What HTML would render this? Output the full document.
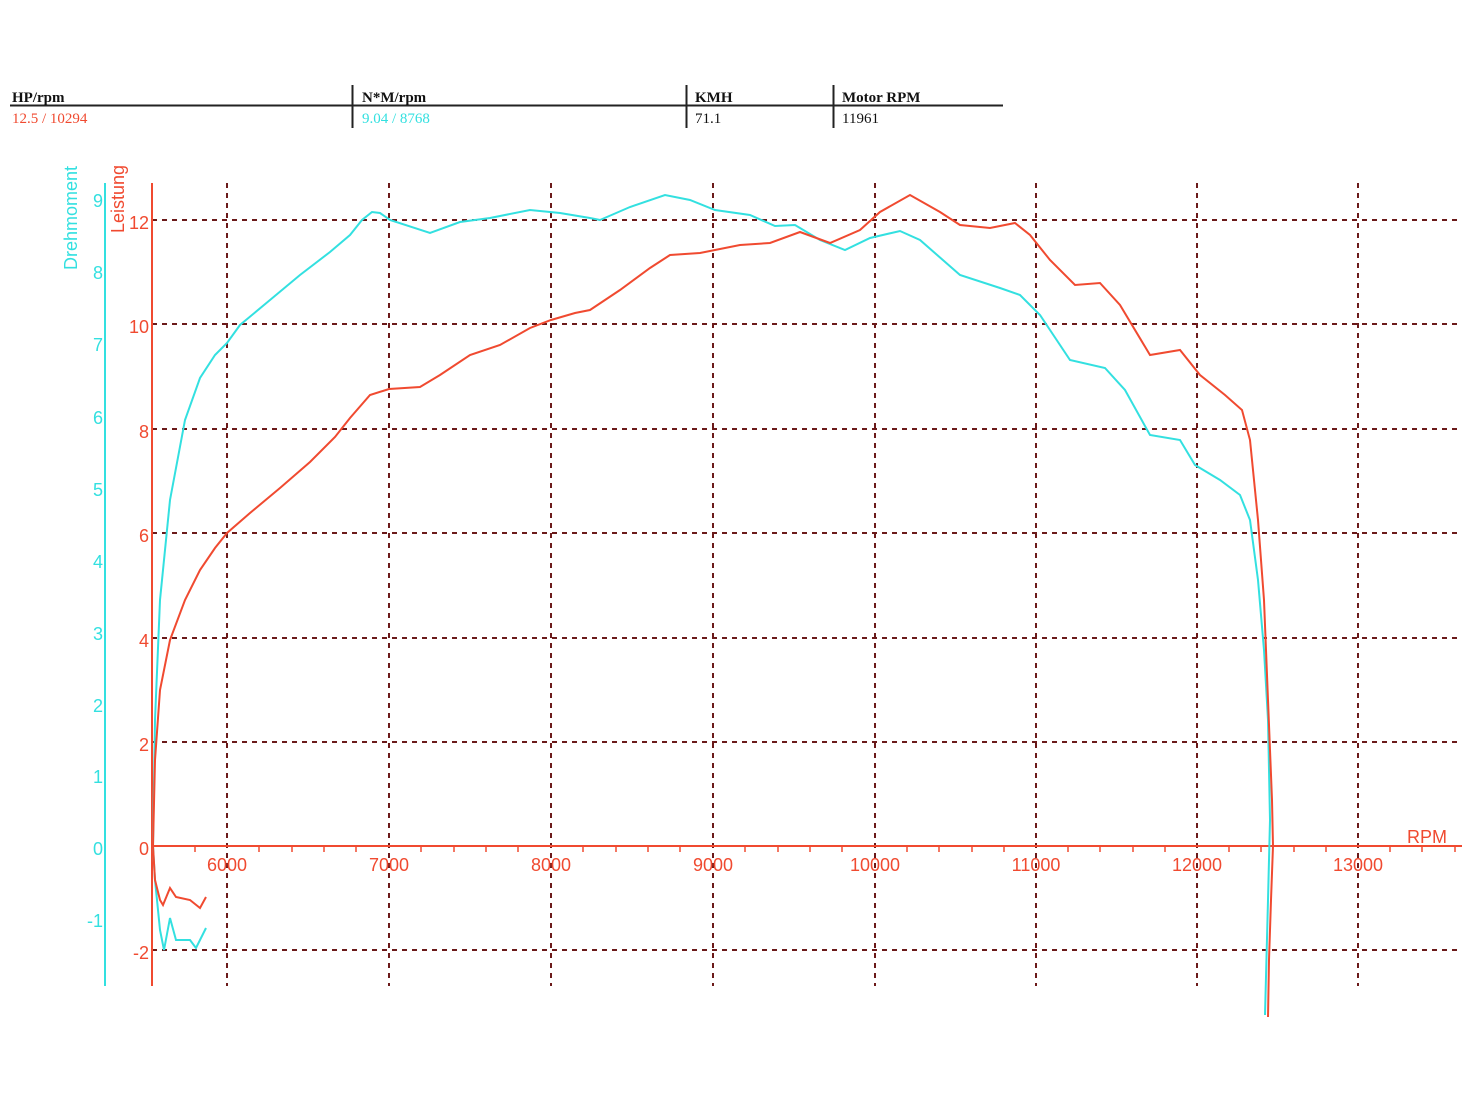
<!DOCTYPE html>
<html><head><meta charset="utf-8"><style>
html,body{margin:0;padding:0;background:#fff;}
svg{display:block;}
</style></head><body>
<svg width="1468" height="1101" viewBox="0 0 1468 1101" xmlns="http://www.w3.org/2000/svg">
<rect width="1468" height="1101" fill="#fff"/>
<!-- header -->
<g font-family="Liberation Serif, serif" font-size="15">
<line x1="10" y1="105.5" x2="1003" y2="105.5" stroke="#222" stroke-width="2"/>
<line x1="352.5" y1="85" x2="352.5" y2="128" stroke="#222" stroke-width="2"/>
<line x1="686.5" y1="85" x2="686.5" y2="128" stroke="#222" stroke-width="2"/>
<line x1="833.5" y1="85" x2="833.5" y2="128" stroke="#222" stroke-width="2"/>
<text x="12" y="102" font-weight="bold" fill="#111">HP/rpm</text>
<text x="12" y="123" fill="#f04a30">12.5 / 10294</text>
<text x="362" y="102" font-weight="bold" fill="#111">N*M/rpm</text>
<text x="362" y="123" fill="#33e0e0">9.04 / 8768</text>
<text x="695" y="102" font-weight="bold" fill="#111">KMH</text>
<text x="695" y="123" fill="#111">71.1</text>
<text x="842" y="102" font-weight="bold" fill="#111">Motor RPM</text>
<text x="842" y="123" fill="#111">11961</text>
</g>
<!-- grid -->
<g stroke="#6b1a1a" stroke-width="2" stroke-dasharray="5,5">
<line x1="227" y1="183" x2="227" y2="986"/>
<line x1="389" y1="183" x2="389" y2="986"/>
<line x1="551" y1="183" x2="551" y2="986"/>
<line x1="713" y1="183" x2="713" y2="986"/>
<line x1="875" y1="183" x2="875" y2="986"/>
<line x1="1036" y1="183" x2="1036" y2="986"/>
<line x1="1197" y1="183" x2="1197" y2="986"/>
<line x1="1358" y1="183" x2="1358" y2="986"/>
<line x1="152" y1="220" x2="1462" y2="220"/>
<line x1="152" y1="324" x2="1462" y2="324"/>
<line x1="152" y1="429" x2="1462" y2="429"/>
<line x1="152" y1="533" x2="1462" y2="533"/>
<line x1="152" y1="638" x2="1462" y2="638"/>
<line x1="152" y1="742" x2="1462" y2="742"/>
<line x1="152" y1="950" x2="1462" y2="950"/>
</g>
<!-- axes -->
<line x1="105" y1="183" x2="105" y2="986" stroke="#33e0e0" stroke-width="2"/>
<line x1="152" y1="183" x2="152" y2="986" stroke="#f04a30" stroke-width="2"/>
<line x1="152" y1="846" x2="1462" y2="846" stroke="#f04a30" stroke-width="2"/>
<g stroke="#f04a30" stroke-width="1.5">
<line x1="195" y1="846" x2="195" y2="852"/><line x1="259" y1="846" x2="259" y2="852"/><line x1="292" y1="846" x2="292" y2="852"/><line x1="324" y1="846" x2="324" y2="852"/><line x1="356" y1="846" x2="356" y2="852"/>
<line x1="421" y1="846" x2="421" y2="852"/><line x1="454" y1="846" x2="454" y2="852"/><line x1="486" y1="846" x2="486" y2="852"/><line x1="518" y1="846" x2="518" y2="852"/>
<line x1="583" y1="846" x2="583" y2="852"/><line x1="616" y1="846" x2="616" y2="852"/><line x1="648" y1="846" x2="648" y2="852"/><line x1="680" y1="846" x2="680" y2="852"/>
<line x1="745" y1="846" x2="745" y2="852"/><line x1="778" y1="846" x2="778" y2="852"/><line x1="810" y1="846" x2="810" y2="852"/><line x1="842" y1="846" x2="842" y2="852"/>
<line x1="907" y1="846" x2="907" y2="852"/><line x1="939" y1="846" x2="939" y2="852"/><line x1="972" y1="846" x2="972" y2="852"/><line x1="1004" y1="846" x2="1004" y2="852"/>
<line x1="1068" y1="846" x2="1068" y2="852"/><line x1="1100" y1="846" x2="1100" y2="852"/><line x1="1133" y1="846" x2="1133" y2="852"/><line x1="1165" y1="846" x2="1165" y2="852"/>
<line x1="1229" y1="846" x2="1229" y2="852"/><line x1="1261" y1="846" x2="1261" y2="852"/><line x1="1294" y1="846" x2="1294" y2="852"/><line x1="1326" y1="846" x2="1326" y2="852"/>
<line x1="1390" y1="846" x2="1390" y2="852"/><line x1="1422" y1="846" x2="1422" y2="852"/><line x1="1455" y1="846" x2="1455" y2="852"/>
</g>
<g font-family="Liberation Sans, sans-serif" font-size="18" fill="#f04a30" text-anchor="middle">
<text x="227" y="871">6000</text><text x="389" y="871">7000</text><text x="551" y="871">8000</text><text x="713" y="871">9000</text><text x="875" y="871">10000</text><text x="1036" y="871">11000</text><text x="1197" y="871">12000</text><text x="1358" y="871">13000</text>
<text x="1427" y="843">RPM</text>
</g>
<g font-family="Liberation Sans, sans-serif" font-size="18" fill="#f04a30" text-anchor="end">
<text x="149" y="229">12</text><text x="149" y="333">10</text><text x="149" y="438">8</text><text x="149" y="542">6</text><text x="149" y="647">4</text><text x="149" y="751">2</text><text x="149" y="855">0</text><text x="149" y="959">-2</text>
</g>
<g font-family="Liberation Sans, sans-serif" font-size="18" fill="#33e0e0" text-anchor="end">
<text x="103" y="207">9</text><text x="103" y="279">8</text><text x="103" y="351">7</text><text x="103" y="424">6</text><text x="103" y="496">5</text><text x="103" y="568">4</text><text x="103" y="640">3</text><text x="103" y="712">2</text><text x="103" y="783">1</text><text x="103" y="855">0</text><text x="103" y="927">-1</text>
</g>
<text transform="translate(77,270) rotate(-90)" font-family="Liberation Sans, sans-serif" font-size="18" fill="#33e0e0">Drehmoment</text>
<text transform="translate(124,233) rotate(-90)" font-family="Liberation Sans, sans-serif" font-size="18" fill="#f04a30">Leistung</text>
<!-- torque -->
<polyline fill="none" stroke="#33e0e0" stroke-width="2" points="153,846 155,720 160,600 170,500 185,420 200,378 215,355 227,343 240,325 270,300 300,275 330,252 350,235 362,220 372,212 380,213 390,220 430,233 460,222 490,218 530,210 560,213 590,218 600,220 630,207 665,195 690,200 715,210 750,215 775,226 795,225 820,240 845,250 870,238 900,231 920,240 960,275 1000,288 1020,295 1040,315 1070,360 1105,368 1125,390 1150,435 1180,440 1195,465 1220,480 1240,495 1250,520 1258,580 1264,650 1268,720 1270,820 1268,900 1265,1015"/>
<polyline fill="none" stroke="#33e0e0" stroke-width="2" points="153,846 155,880 160,930 164,950 170,918 176,940 190,940 196,948 206,928"/>
<!-- power -->
<polyline fill="none" stroke="#f04a30" stroke-width="2" points="153,846 155,760 160,690 170,640 185,600 200,570 215,548 227,533 250,513 280,488 310,462 335,437 350,418 370,395 389,389 420,387 440,375 470,355 500,345 530,328 551,320 575,313 590,310 620,290 650,268 670,255 700,253 740,245 770,243 800,232 830,243 860,230 880,212 910,195 940,212 960,225 990,228 1015,223 1030,235 1050,260 1075,285 1100,283 1120,305 1150,355 1180,350 1200,375 1225,395 1242,410 1250,440 1258,520 1264,600 1268,700 1272,800 1273,846 1271,900 1269,960 1268,1017"/>
<polyline fill="none" stroke="#f04a30" stroke-width="2" points="153,846 155,880 160,900 163,905 170,888 176,897 190,900 200,908 206,897"/>
</svg>
</body></html>
